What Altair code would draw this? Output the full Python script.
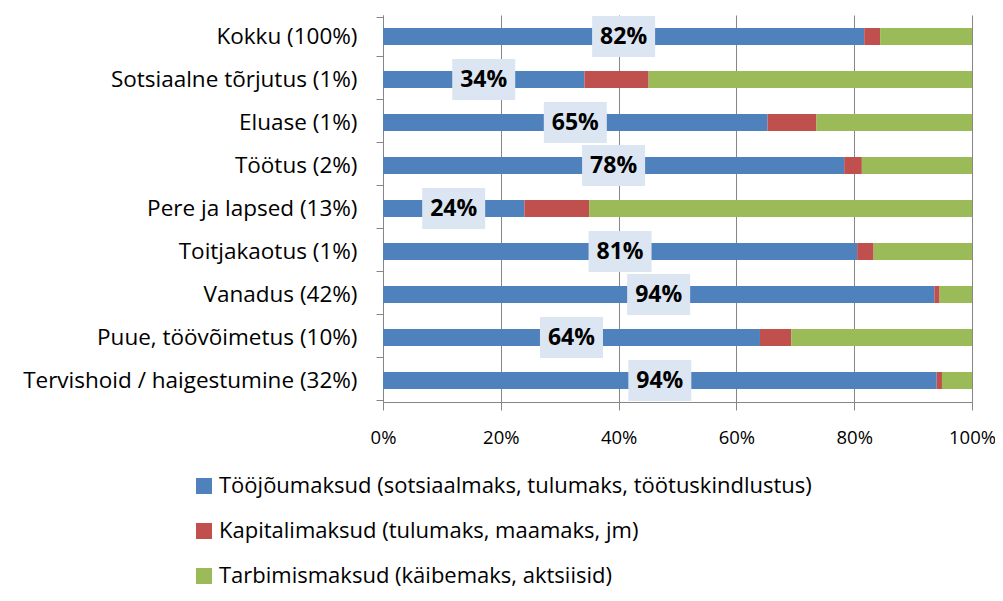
import altair as alt
import pandas as pd

categories = [
    "Kokku (100%)",
    "Sotsiaalne tõrjutus (1%)",
    "Eluase (1%)",
    "Töötus (2%)",
    "Pere ja lapsed (13%)",
    "Toitjakaotus (1%)",
    "Vanadus (42%)",
    "Puue, töövõimetus (10%)",
    "Tervishoid / haigestumine (32%)",
]
series = [
    "Tööjõumaksud (sotsiaalmaks, tulumaks, töötuskindlustus)",
    "Kapitalimaksud (tulumaks, maamaks, jm)",
    "Tarbimismaksud (käibemaks, aktsiisid)",
]
labour = [81.7, 34.2, 65.3, 78.3, 24.0, 80.5, 93.6, 64.0, 94.0]
capital = [2.7, 10.9, 8.3, 3.0, 11.0, 2.8, 0.9, 5.3, 0.9]
consumption = [15.6, 54.9, 26.4, 18.7, 65.0, 16.7, 5.5, 30.7, 5.1]
labels = ["82%", "34%", "65%", "78%", "24%", "81%", "94%", "64%", "94%"]
colors = ["#4f81bd", "#c0504d", "#9bbb59"]

rows = []
for i, c in enumerate(categories):
    for k, vals in enumerate([labour, capital, consumption]):
        rows.append({"cat": c, "series": series[k], "order": k, "value": vals[i] / 100})
df = pd.DataFrame(rows)
lab_df = pd.DataFrame({"cat": categories, "mid": [v / 200 for v in labour], "label": labels})

FONT = "Open Sans"
GRID = "#868686"

y_enc = alt.Y("cat:N", sort=categories, title=None,
              axis=alt.Axis(tickBand="extent", tickSize=7, tickColor=GRID, domainColor=GRID,
                            labelFontSize=22.5, labelFont=FONT, labelColor="#000000",
                            labelPadding=19, labelLimit=400))

bars = alt.Chart(df).mark_bar(size=17).encode(
    x=alt.X("value:Q", stack="zero", title=None,
            scale=alt.Scale(domain=[0, 1], nice=False),
            axis=alt.Axis(format="%", values=[0, 0.2, 0.4, 0.6, 0.8, 1.0], grid=True,
                          gridColor=GRID, gridWidth=1, tickColor=GRID, domainColor=GRID,
                          tickSize=8, labelFontSize=18.5, labelFont=FONT, labelColor="#000000",
                          labelPadding=18, labelFlush=False)),
    y=y_enc,
    color=alt.Color("series:N", sort=series,
                    scale=alt.Scale(domain=series, range=colors),
                    legend=alt.Legend(title=None, orient="none", legendX=-190, legendY=460,
                                      direction="vertical", symbolType="square", symbolSize=256,
                                      symbolStrokeWidth=0, labelFontSize=22, labelFont=FONT,
                                      labelColor="#000000", rowPadding=23, labelOffset=4,
                                      labelLimit=800, padding=0)),
    order=alt.Order("order:Q"),
)

boxes = alt.Chart(lab_df).mark_point(
    shape="M-1.537,-1L1.537,-1L1.537,1L-1.537,1Z", size=1681, filled=True,
    color="#dce6f2", opacity=1, strokeWidth=0,
).encode(x="mid:Q", y=alt.Y("cat:N", sort=categories))

texts = alt.Chart(lab_df).mark_text(
    font=FONT, fontSize=23, fontWeight="bold", color="#000000", baseline="middle", align="center",
).encode(x="mid:Q", y=alt.Y("cat:N", sort=categories), text="label:N")

chart = alt.layer(bars, boxes, texts).properties(
    width=589, height=387,
    autosize=alt.AutoSizeParams(type="none"),
    padding={"left": 375, "top": 7, "right": 23, "bottom": 190},
).configure_view(stroke=None).configure_axis(labelFont=FONT)

chart.save("out.html", embed_options={"renderer": "svg", "actions": False})
